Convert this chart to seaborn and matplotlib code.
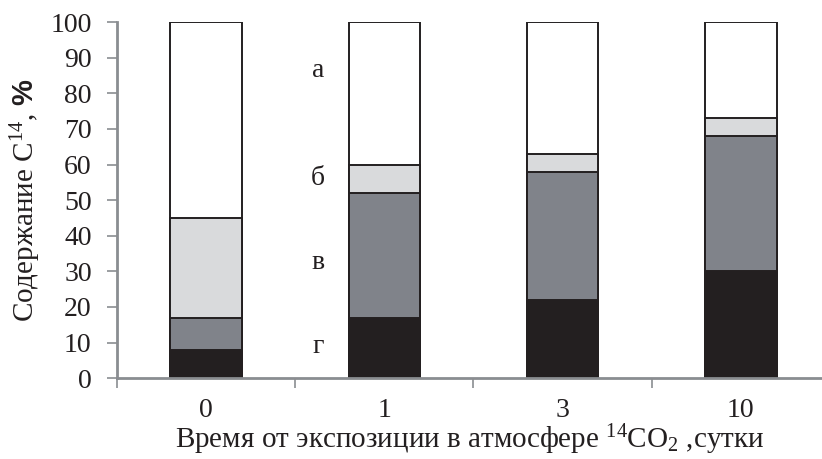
import matplotlib
matplotlib.use("Agg")
import matplotlib.pyplot as plt
import numpy as np
import pandas as pd
import seaborn as sns

# Exposure time, days
days = ["0", "1", "3", "10"]
# Fractions of C14 content, % (bottom to top: г, в, б, а)
frac_g = [8, 17, 22, 30]
frac_v = [9, 35, 36, 38]
frac_b = [28, 8, 5, 5]
frac_a = [55, 40, 37, 27]

fraction_labels = ["а", "б", "в", "г"]
label_y = [86.5, 56, 32.5, 9]

sns.set_theme(style="white")
plt.rcParams["font.family"] = ["Liberation Serif", "DejaVu Serif"]
plt.rcParams["mathtext.fontset"] = "custom"
plt.rcParams["mathtext.rm"] = "Liberation Serif"
plt.rcParams["mathtext.it"] = "Liberation Serif"
plt.rcParams["mathtext.bf"] = "Liberation Sans:bold"

df = pd.DataFrame({"day": days, "г": frac_g, "в": frac_v, "б": frac_b, "а": frac_a})
df["top_g"] = df["г"]
df["top_v"] = df["top_g"] + df["в"]
df["top_b"] = df["top_v"] + df["б"]
df["top_a"] = df["top_b"] + df["а"]

fig = plt.figure(figsize=(8.22, 4.59), dpi=100)
ax = fig.add_axes([0.142, 0.176, 0.858, 0.776])

edge = "#231f20"
text_color = "#231f20"
layers = [("top_a", "#ffffff"), ("top_b", "#d9dadc"), ("top_v", "#80838a"), ("top_g", "#231f20")]
for col, color in layers:
    sns.barplot(data=df, x="day", y=col, order=days, color=color, width=0.4,
                edgecolor=edge, linewidth=1.4, saturation=1, ax=ax)

for lab, yv in zip(fraction_labels, label_y):
    ax.text(0.63, yv, lab, ha="center", va="center", fontsize=20, color=text_color)

ax.set_ylim(0, 100)
ax.set_xlim(-0.5, 3.455)
ax.set_yticks(np.arange(0, 101, 10))
ax.tick_params(axis="y", direction="out", length=7, width=1.2, color="#8a8d91",
               labelsize=20, labelcolor=text_color, pad=11, left=True)
ax.tick_params(axis="x", which="major", length=0, labelsize=20, labelcolor=text_color, pad=14)
ax.set_xticks([-0.5, 0.5, 1.5, 2.5], minor=True)
ax.tick_params(axis="x", which="minor", direction="out", length=7, width=1.2,
               color="#8a8d91", bottom=True)

for side in ["top", "right"]:
    ax.spines[side].set_visible(False)
for side in ["left", "bottom"]:
    ax.spines[side].set_color("#8a8d91")
    ax.spines[side].set_linewidth(2)

ax.set_ylabel(r"Содержание C$^{14}$, $\mathbf{\%}$", fontsize=21, color=text_color, labelpad=5)
ax.set_xlabel(r"Время от экспозиции в атмосфере $^{14}$CO$_{2}$ ,сутки", fontsize=21,
              color=text_color, labelpad=0)

fig.savefig("out.png", dpi=100)
